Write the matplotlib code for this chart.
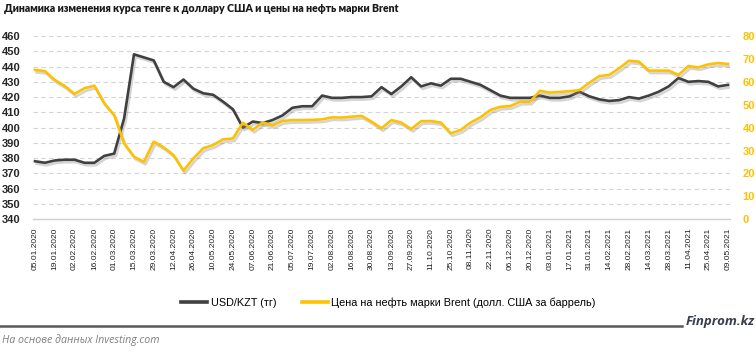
import matplotlib
matplotlib.use('Agg')
import matplotlib.pyplot as plt
import matplotlib.patheffects as pe
from matplotlib.lines import Line2D

# weekly data, 05.01.2020 - 09.05.2021
usd_kzt = [378, 377, 378.5, 379, 379, 377, 377, 381.5, 383, 406,
           448, 446, 444, 430, 426.5, 431.5, 425.5, 422.5, 421.5, 417,
           412, 400, 404, 403, 405, 408, 413, 414, 414, 421,
           419.5, 419.5, 420, 420, 420.5, 426.5, 422, 427, 433, 427,
           429, 427.5, 432, 432, 430, 428, 424.5, 421, 419.5, 419.5,
           419.5, 421, 419.5, 419.5, 420.5, 423.5, 420.5, 418.5, 417.5, 418,
           420, 419, 421, 423.5, 427, 432.5, 430, 430.5, 430, 427, 428]

brent = [65.2, 64.7, 60.8, 58.2, 54.7, 57.2, 58.3, 50.6, 45.5, 33.2,
         27.3, 25.1, 33.9, 31.4, 28, 21.2, 26.6, 31, 32.4, 34.9,
         35.3, 42.2, 39, 42.3, 41, 42.9, 43.3, 43.3, 43.4, 43.6,
         44.5, 44.4, 44.8, 45.1, 42.6, 39.7, 43.3, 42.2, 39.4, 42.8,
         42.9, 42.2, 37.5, 39, 42.2, 44.5, 47.7, 49.1, 49.4, 51.3,
         51.3, 56.1, 55.3, 55.6, 55.9, 56.4, 59.6, 62.5, 63, 65.9,
         69.2, 68.8, 64.9, 64.9, 64.9, 63, 66.9, 66.3, 67.6, 68.2, 67.8]

tick_labels = ['05.01.2020', '19.01.2020', '02.02.2020', '16.02.2020', '01.03.2020',
               '15.03.2020', '29.03.2020', '12.04.2020', '26.04.2020', '10.05.2020',
               '24.05.2020', '07.06.2020', '21.06.2020', '05.07.2020', '19.07.2020',
               '02.08.2020', '16.08.2020', '30.08.2020', '13.09.2020', '27.09.2020',
               '11.10.2020', '25.10.2020', '08.11.2020', '22.11.2020', '06.12.2020',
               '20.12.2020', '03.01.2021', '17.01.2021', '31.01.2021', '14.02.2021',
               '28.02.2021', '14.03.2021', '28.03.2021', '11.04.2021', '25.04.2021',
               '09.05.2021']

left_ticks = list(range(340, 461, 10))
right_ticks = list(range(0, 81, 10))

dark = '#404040'
yellow = '#FFC000'

W, H = 756, 352
fig = plt.figure(figsize=(W / 100, H / 100), dpi=100)
ax = fig.add_axes([33 / W, 1 - 219.3 / H, 697 / W, 183.3 / H])
ax2 = ax.twinx()

shadow = [pe.SimpleLineShadow(offset=(1.2, -1.8), shadow_color='#888888', alpha=0.35),
          pe.Normal()]

x = list(range(len(usd_kzt)))
ax.plot(x, usd_kzt, color=dark, lw=1.9, solid_joinstyle='round', path_effects=shadow)
ax2.plot(x, brent, color=yellow, lw=1.9, solid_joinstyle='round', path_effects=shadow)

ax.set_xlim(-0.2, 70.2)
ax.set_ylim(340, 460)
ax2.set_ylim(0, 80)

ax.set_yticks(left_ticks)
ax2.set_yticks(right_ticks)
ax.set_xticks(x[::2])
ax.set_xticklabels(tick_labels, rotation=90, fontsize=6, family='Liberation Sans', color='#1f1f1f')

ax.grid(axis='y', ls=(0, (4, 3)), color='#d4d4d4', lw=0.8)
ax.set_axisbelow(True)
for s in ['top', 'right', 'left']:
    ax.spines[s].set_visible(False)
    ax2.spines[s].set_visible(False)
ax2.spines['bottom'].set_visible(False)
ax.spines['bottom'].set_color('#d0d0d0')
ax.spines['bottom'].set_linewidth(1.0)

ax.tick_params(axis='y', length=0, pad=9, labelsize=8, labelcolor='#262626')
ax.tick_params(axis='x', length=0, pad=6)
ax2.tick_params(axis='y', length=0, pad=9, labelsize=8, labelcolor=yellow)
for lab in ax.get_yticklabels() + ax2.get_yticklabels():
    lab.set_fontweight('bold')
    lab.set_family('Liberation Sans')

fig.text(4 / W, 1 - 9 / H, 'Динамика изменения курса тенге к доллару США и цены на нефть марки Brent',
         fontsize=7.6, fontweight='heavy', family='Lato', color='#1a1a1a', va='center')

handles = [Line2D([], [], color=dark, lw=2.6), Line2D([], [], color=yellow, lw=2.6)]
fig.legend(handles, ['USD/KZT (тг)', 'Цена на нефть марки Brent (долл. США за баррель)'],
           loc='center', bbox_to_anchor=(388.5 / W, 1 - 303 / H), ncol=2, frameon=False,
           prop={'family': 'Liberation Sans', 'size': 7.8}, handlelength=2.35, handletextpad=0.36,
           columnspacing=2.4)

fig.add_artist(Line2D([0, 682 / W], [1 - 325.7 / H, 1 - 325.7 / H], color='#595959', lw=1.8))
fig.text(686 / W, 1 - 322 / H, 'Finprom.kz', fontsize=9.5, fontweight='bold', style='italic',
         family='Open Sans', color='#3a3f4e', va='center')
fig.text(2 / W, 1 - 340 / H, 'На основе данных Investing.com', fontsize=7.7, style='italic',
         family='Open Sans', color='#7f7f7f', va='center')

fig.savefig('out.png', dpi=100)
